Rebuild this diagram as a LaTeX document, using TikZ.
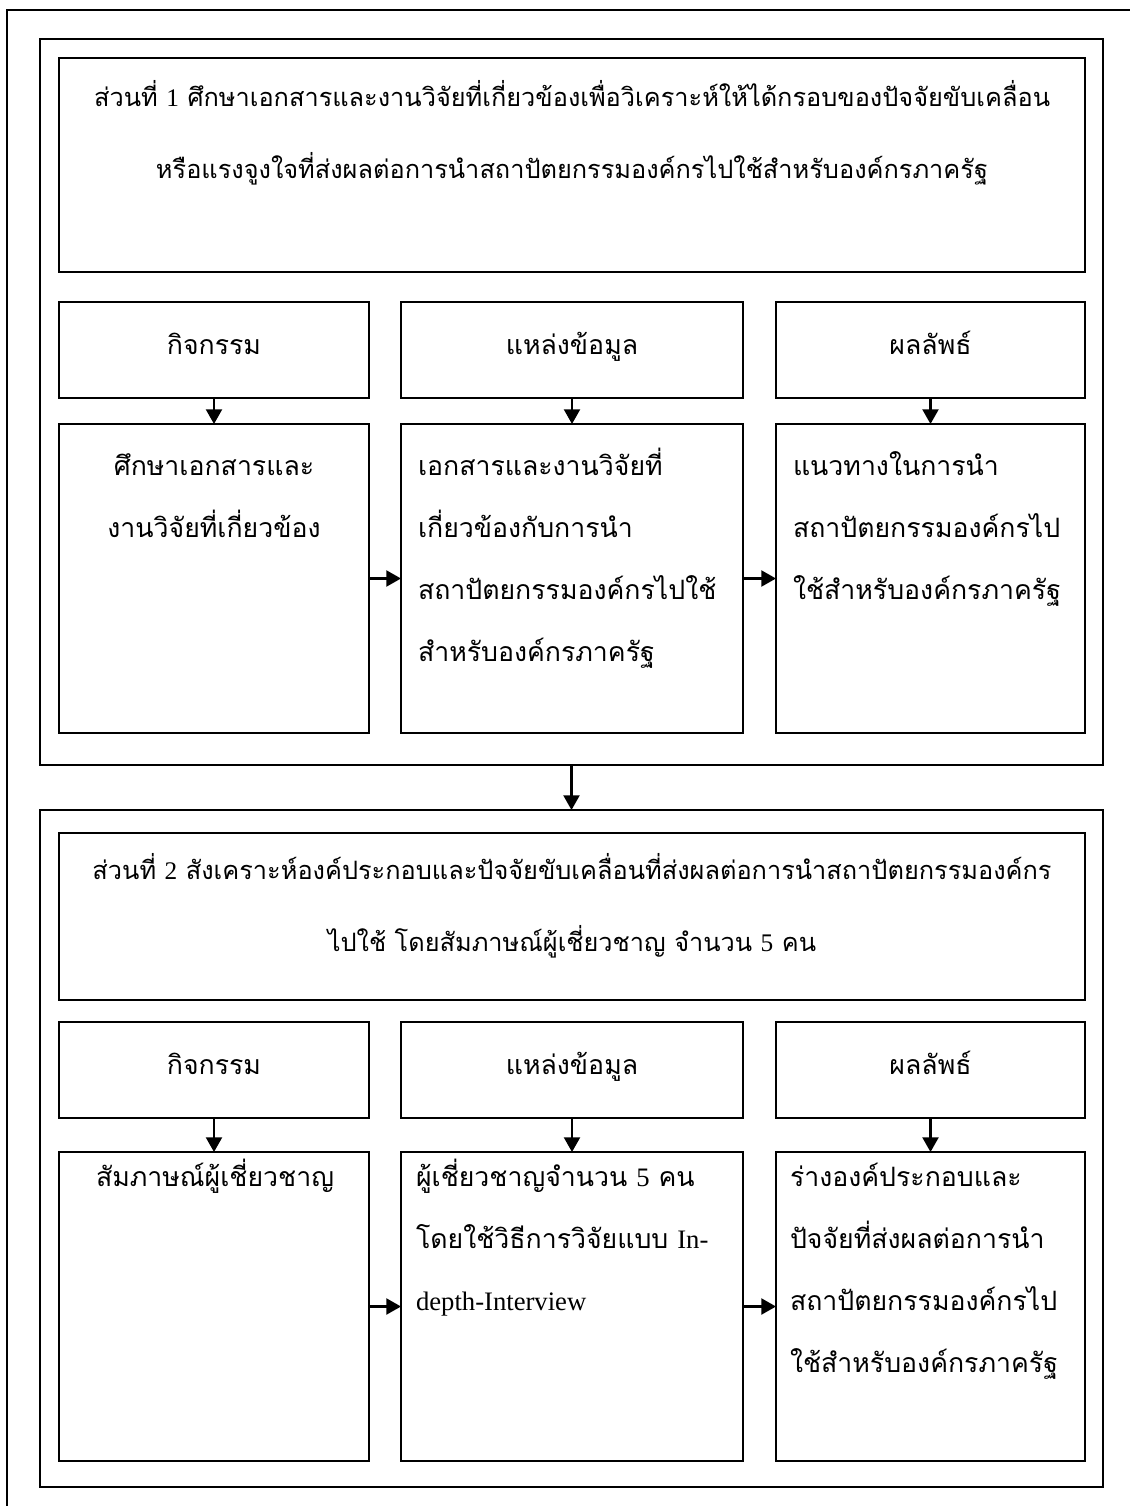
\documentclass[tikz,border=0pt]{standalone}
\usepackage{fontspec}
\setmainfont[Script=Thai]{Loma}
\newfontfamily\latfont{Liberation Serif}
\usetikzlibrary{arrows.meta}
% Latin words and digits inside the Thai text
\newcommand\en[1]{{\latfont #1}}
% fixes the height of the first line of every text block
\newcommand\thstrut{\rule{0pt}{24pt}}

\begin{document}
\begin{tikzpicture}[x=0.75pt,y=-0.75pt,
  frame/.style={line width=2pt},
  box/.style={draw, rectangle, line width=2pt, inner sep=0pt, outer sep=0pt},
  flow/.style={line width=1.6pt, -{Triangle[length=11pt,width=12pt]}},
  txt/.style={inner sep=0pt, outer sep=0pt, font=\fontsize{20pt}{46.5pt}\selectfont},
  ttl/.style={inner sep=0pt, outer sep=0pt, align=center, anchor=north, font=\fontsize{19pt}{54pt}\selectfont},
]
\useasboundingbox (0,0) rectangle (1130,1506);
\clip (0,0) rectangle (1130,1506);

% page frame
\draw[frame] (1140,10) -- (7,10) -- (7,1520);

% ---------- part 1 ----------
\node[box, minimum width=797.25pt, minimum height=544.5pt] (sec1) at (571.5,402) {};
\node[box, minimum width=769.5pt, minimum height=160.5pt] (t1) at (572,165) {};
\node[box, minimum width=232.5pt, minimum height=72pt] (h1a) at (214,350) {};
\node[box, minimum width=256.5pt, minimum height=72pt] (h1b) at (572,350) {};
\node[box, minimum width=231.75pt, minimum height=72pt] (h1c) at (930.5,350) {};
\node[box, minimum width=232.5pt, minimum height=231.75pt] (l1a) at (214,578.5) {};
\node[box, minimum width=256.5pt, minimum height=231.75pt] (l1b) at (572,578.5) {};
\node[box, minimum width=231.75pt, minimum height=231.75pt] (l1c) at (930.5,578.5) {};

\node[ttl] (t1txt) at (572,74) {\thstrut ส่วนที่ \en{1} ศึกษาเอกสารและงานวิจัยที่เกี่ยวข้องเพื่อวิเคราะห์ให้ได้กรอบของปัจจัยขับเคลื่อน\\
  หรือแรงจูงใจที่ส่งผลต่อการนำสถาปัตยกรรมองค์กรไปใช้สำหรับองค์กรภาครัฐ};
\node[txt, anchor=base] (h1atxt) at (214,354) {กิจกรรม};
\node[txt, anchor=base] (h1btxt) at (572,354) {แหล่งข้อมูล};
\node[txt, anchor=base] (h1ctxt) at (930.5,354) {ผลลัพธ์};
\node[txt, align=center, anchor=north] (l1atxt) at (214,443) {\thstrut ศึกษาเอกสารและ\\งานวิจัยที่เกี่ยวข้อง};
\node[txt, align=left, anchor=north west] (l1btxt) at (418,443) {\thstrut เอกสารและงานวิจัยที่\\เกี่ยวข้องกับการนำ\\สถาปัตยกรรมองค์กรไปใช้\\สำหรับองค์กรภาครัฐ};
\node[txt, align=left, anchor=north west] (l1ctxt) at (793,443) {\thstrut แนวทางในการนำ\\สถาปัตยกรรมองค์กรไป\\ใช้สำหรับองค์กรภาครัฐ};

\draw[flow] (h1a) -- (l1a);
\draw[flow] (h1b) -- (l1b);
\draw[flow] (h1c) -- (l1c);
\draw[flow] (l1a) -- (l1b);
\draw[flow] (l1b) -- (l1c);

% ---------- part 2 ----------
\node[box, minimum width=797.25pt, minimum height=507.75pt] (sec2) at (571.5,1148.5) {};
\node[box, minimum width=769.5pt, minimum height=125.25pt] (t2) at (572,916.5) {};
\node[box, minimum width=232.5pt, minimum height=72pt] (h2a) at (214,1070) {};
\node[box, minimum width=256.5pt, minimum height=72pt] (h2b) at (572,1070) {};
\node[box, minimum width=231.75pt, minimum height=72pt] (h2c) at (930.5,1070) {};
\node[box, minimum width=232.5pt, minimum height=231.75pt] (l2a) at (214,1306.5) {};
\node[box, minimum width=256.5pt, minimum height=231.75pt] (l2b) at (572,1306.5) {};
\node[box, minimum width=231.75pt, minimum height=231.75pt] (l2c) at (930.5,1306.5) {};

\node[ttl] (t2txt) at (572,847) {\thstrut ส่วนที่ \en{2} สังเคราะห์องค์ประกอบและปัจจัยขับเคลื่อนที่ส่งผลต่อการนำสถาปัตยกรรมองค์กร\\
  ไปใช้ โดยสัมภาษณ์ผู้เชี่ยวชาญ จำนวน \en{5} คน};
\node[txt, anchor=base] (h2atxt) at (214,1074) {กิจกรรม};
\node[txt, anchor=base] (h2btxt) at (572,1074) {แหล่งข้อมูล};
\node[txt, anchor=base] (h2ctxt) at (930.5,1074) {ผลลัพธ์};
\node[txt, align=center, anchor=north] (l2atxt) at (215,1154) {\thstrut สัมภาษณ์ผู้เชี่ยวชาญ};
\node[txt, align=left, anchor=north west] (l2btxt) at (416,1154) {\thstrut ผู้เชี่ยวชาญจำนวน \en{5} คน\\โดยใช้วิธีการวิจัยแบบ \en{In-}\\\en{depth-Interview}};
\node[txt, align=left, anchor=north west] (l2ctxt) at (790,1154) {\thstrut ร่างองค์ประกอบและ\\ปัจจัยที่ส่งผลต่อการนำ\\สถาปัตยกรรมองค์กรไป\\ใช้สำหรับองค์กรภาครัฐ};

\draw[flow] (h2a) -- (l2a);
\draw[flow] (h2b) -- (l2b);
\draw[flow] (h2c) -- (l2c);
\draw[flow] (l2a) -- (l2b);
\draw[flow] (l2b) -- (l2c);

% link between the two parts
\draw[flow] (sec1) -- (sec2);
\end{tikzpicture}
\end{document}
